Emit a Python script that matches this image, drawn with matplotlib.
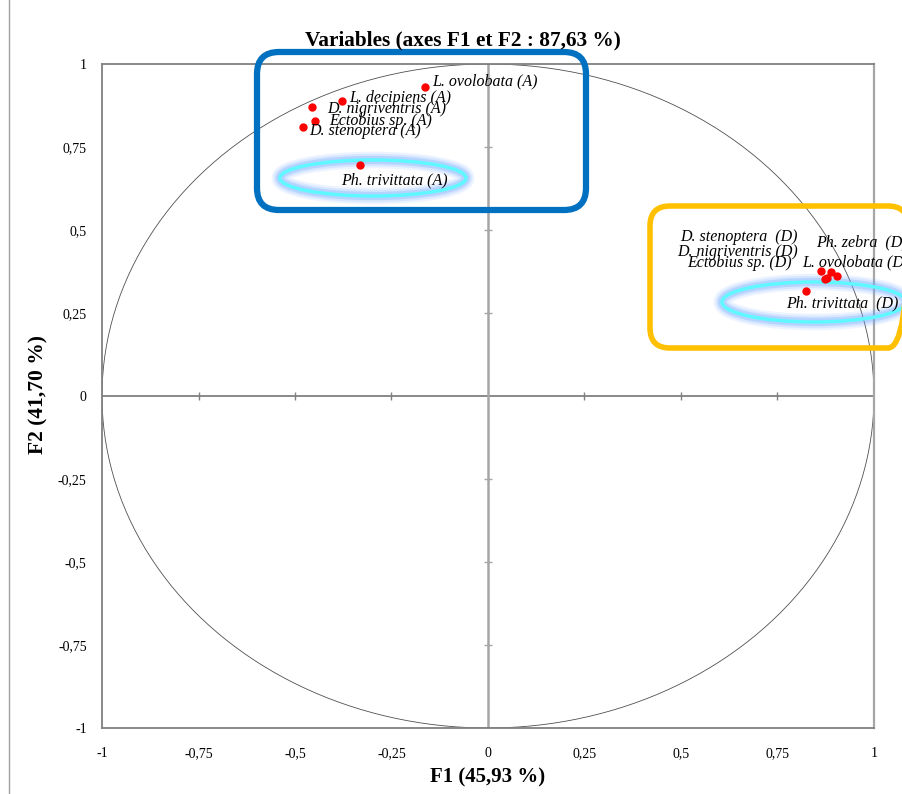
import numpy as np
import matplotlib
matplotlib.use('Agg')
from matplotlib import pyplot as plt
from matplotlib.patches import FancyBboxPatch, Ellipse

# correlation circle data
labels_a = ['L. ovolobata (A)', 'L. decipiens (A)', 'D. nigriventris (A)',
            'Ectobius sp. (A)', 'D. stenoptera (A)', 'Ph. trivittata (A)']
f1_a = [-0.163, -0.378, -0.456, -0.448, -0.479, -0.332]
f2_a = [0.932, 0.890, 0.869, 0.827, 0.809, 0.695]

labels_d = ['D. stenoptera  (D)', 'Ph. zebra  (D)', 'L. ovolobata (D)',
            'D. nigriventris (D)', 'Ectobius sp. (D)', 'Ph. trivittata  (D)']
f1_d = [0.863, 0.888, 0.904, 0.878, 0.872, 0.824]
f2_d = [0.376, 0.373, 0.361, 0.355, 0.353, 0.316]

ticks = [-1, -0.75, -0.5, -0.25, 0, 0.25, 0.5, 0.75, 1]
tick_labels = ['-1', '-0,75', '-0,5', '-0,25', '0', '0,25', '0,5', '0,75', '1']

# label placement: (dx px, dy px, ha)
off_a = [(7, -5, 'left'), (7, -3, 'left'), (15, 2, 'left'),
         (14, 0, 'left'), (6, 4, 'left'), (-19, 15, 'left')]
off_d = [(-23, -34, 'right'), (-15, -30, 'left'), (-35, -14, 'left'),
         (-29, -26, 'right'), (-33, -16, 'right'), (-20, 12, 'left')]

plt.rcParams['font.family'] = ['Liberation Serif', 'DejaVu Serif']

W, H = 903, 794
fig = plt.figure(figsize=(W / 100, H / 100), dpi=100)
ax = fig.add_axes([102 / W, 1 - 728 / H, (874 - 102) / W, (728 - 64) / H])

# overlay in pixel coordinates for the highlight shapes
ov = fig.add_axes([0, 0, 1, 1])
ov.set_xlim(0, W)
ov.set_ylim(H, 0)
ov.axis('off')

ax.set_xlim(-1, 1)
ax.set_ylim(-1, 1)
ax.set_xticks(ticks)
ax.set_xticklabels(tick_labels)
ax.set_yticks(ticks)
ax.set_yticklabels(tick_labels)
ax.tick_params(length=0, labelsize=10)
ax.tick_params(axis='x', pad=14)
ax.tick_params(axis='y', pad=11)
for s in ['top', 'bottom', 'left']:
    ax.spines[s].set_color('#808080')
    ax.spines[s].set_linewidth(1.3)
ax.spines['right'].set_color('#a6a6a6')
ax.spines['right'].set_linewidth(1.6)

# cross axes with tick marks
ax.axhline(0, color='#808080', lw=1.3, zorder=1)
ax.axvline(0, color='#a6a6a6', lw=1.8, zorder=1)
inner = [t for t in ticks if abs(t) not in (0, 1)]
ax.plot(inner, [0] * len(inner), ls='none', marker='|', ms=6, mew=1, color='#808080')
ax.plot([0] * len(inner), inner, ls='none', marker='_', ms=6, mew=1, color='#a6a6a6')

# unit circle
th = np.linspace(0, 2 * np.pi, 400)
ax.plot(np.cos(th), np.sin(th), color='#505050', lw=0.6, zorder=2)

# glowing ellipses under the points
for cx, cy, w, h in [(373, 178, 186, 36), (814, 302, 184, 40)]:
    for lw, a in [(12, 0.12), (9, 0.18), (6, 0.3)]:
        ax.add_patch(Ellipse((cx, cy), w, h, fill=False, ec='#6fa8ff', lw=lw, alpha=a,
                             transform=ov.transData, clip_on=False, zorder=3))
    ax.add_patch(Ellipse((cx, cy), w, h, fill=False, ec='#5ff8ff', lw=2.5,
                         transform=ov.transData, clip_on=False, zorder=3))

ax.plot(f1_a, f2_a, 'o', color='red', ms=5, zorder=4)
ax.plot(f1_d, f2_d, 'o', color='red', ms=5, zorder=4)

for lab, x, y, (dx, dy, ha) in zip(labels_a + labels_d, f1_a + f1_d, f2_a + f2_d, off_a + off_d):
    ax.annotate(lab, (x, y), xytext=(dx, -dy), textcoords='offset pixels',
                ha=ha, va='center', fontsize=11.5, style='italic', zorder=5,
                annotation_clip=False)

fig.text(463 / W, 1 - 40 / H, 'Variables (axes F1 et F2 : 87,63 %)',
         ha='center', va='center', fontsize=15.3, fontweight='bold')
fig.text(488 / W, 1 - 777 / H, 'F1 (45,93 %)', ha='center', va='center',
         fontsize=15, fontweight='bold')
fig.text(38 / W, 1 - 395 / H, 'F2 (41,70 %)', ha='center', va='center',
         fontsize=15.5, fontweight='bold', rotation=90)

ov.plot([9, 9], [0, H], color='#a0a0a0', lw=1)
ov.add_patch(FancyBboxPatch((257 + 22, 52 + 22), 329 - 44, 158 - 44,
                            boxstyle='round,pad=22', fill=False,
                            ec='#0070c0', lw=4.5))
ov.add_patch(FancyBboxPatch((650 + 20, 206 + 20), 258 - 40, 142 - 40,
                            boxstyle='round,pad=20', fill=False,
                            ec='#ffc000', lw=4))

fig.savefig('out.png', dpi=100)
